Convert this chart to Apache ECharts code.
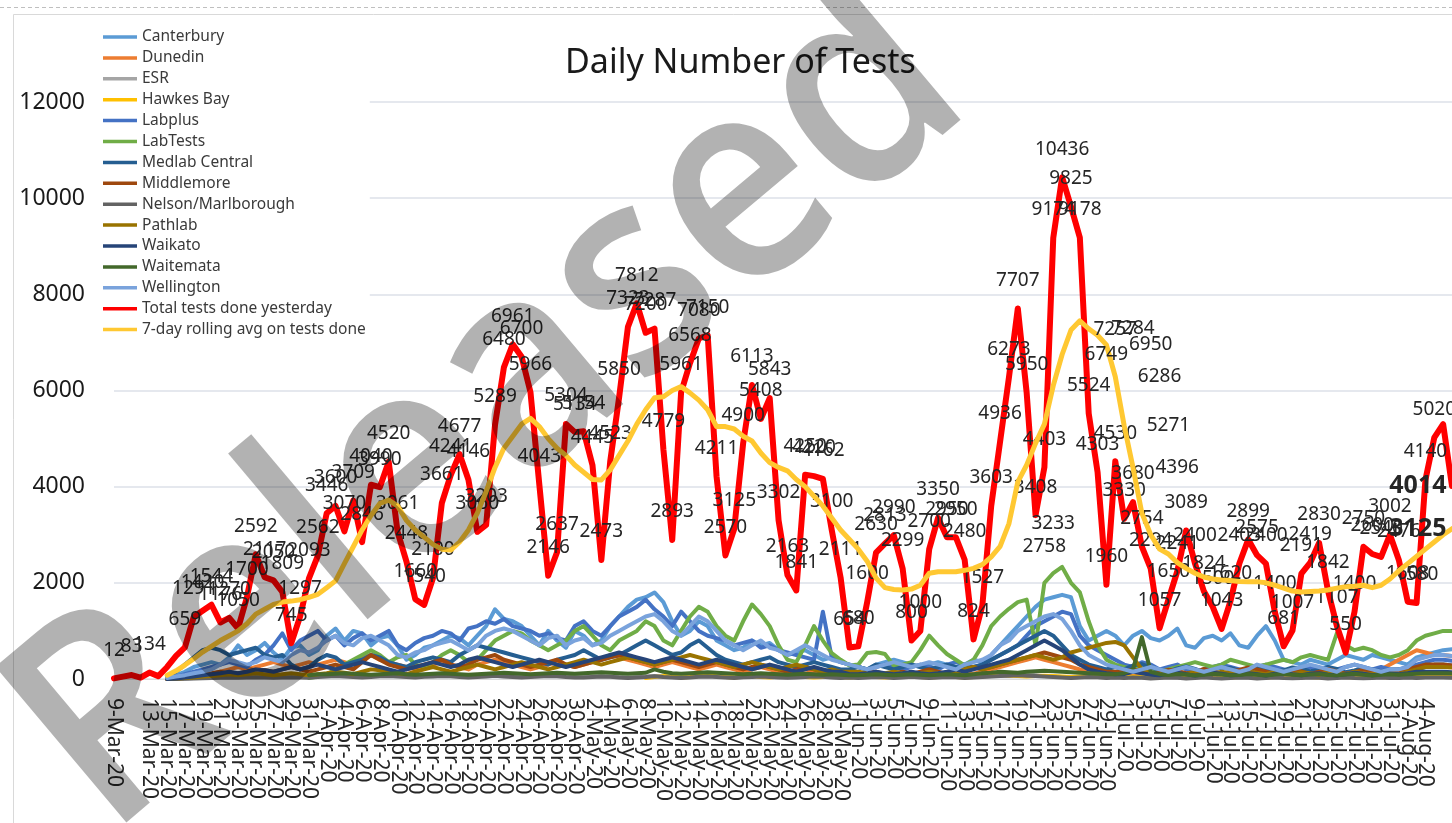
<!DOCTYPE html>
<html><head><meta charset="utf-8">
<script src="https://cdn.jsdelivr.net/npm/echarts@6/dist/echarts.min.js"></script>
<style>html,body{margin:0;padding:0;background:#fff}#c{width:1452px;height:823px}</style>
</head><body><div id="c"></div>
<script>
const dates = [
'9-Mar-20','10-Mar-20','11-Mar-20','12-Mar-20','13-Mar-20','14-Mar-20','15-Mar-20','16-Mar-20','17-Mar-20','18-Mar-20','19-Mar-20','20-Mar-20','21-Mar-20','22-Mar-20','23-Mar-20','24-Mar-20','25-Mar-20','26-Mar-20','27-Mar-20','28-Mar-20','29-Mar-20','30-Mar-20','31-Mar-20',
'1-Apr-20','2-Apr-20','3-Apr-20','4-Apr-20','5-Apr-20','6-Apr-20','7-Apr-20','8-Apr-20','9-Apr-20','10-Apr-20','11-Apr-20','12-Apr-20','13-Apr-20','14-Apr-20','15-Apr-20','16-Apr-20','17-Apr-20','18-Apr-20','19-Apr-20','20-Apr-20','21-Apr-20','22-Apr-20','23-Apr-20','24-Apr-20','25-Apr-20','26-Apr-20','27-Apr-20','28-Apr-20','29-Apr-20','30-Apr-20',
'1-May-20','2-May-20','3-May-20','4-May-20','5-May-20','6-May-20','7-May-20','8-May-20','9-May-20','10-May-20','11-May-20','12-May-20','13-May-20','14-May-20','15-May-20','16-May-20','17-May-20','18-May-20','19-May-20','20-May-20','21-May-20','22-May-20','23-May-20','24-May-20','25-May-20','26-May-20','27-May-20','28-May-20','29-May-20','30-May-20','31-May-20',
'1-Jun-20','2-Jun-20','3-Jun-20','4-Jun-20','5-Jun-20','6-Jun-20','7-Jun-20','8-Jun-20','9-Jun-20','10-Jun-20','11-Jun-20','12-Jun-20','13-Jun-20','14-Jun-20','15-Jun-20','16-Jun-20','17-Jun-20','18-Jun-20','19-Jun-20','20-Jun-20','21-Jun-20','22-Jun-20','23-Jun-20','24-Jun-20','25-Jun-20','26-Jun-20','27-Jun-20','28-Jun-20','29-Jun-20','30-Jun-20',
'1-Jul-20','2-Jul-20','3-Jul-20','4-Jul-20','5-Jul-20','6-Jul-20','7-Jul-20','8-Jul-20','9-Jul-20','10-Jul-20','11-Jul-20','12-Jul-20','13-Jul-20','14-Jul-20','15-Jul-20','16-Jul-20','17-Jul-20','18-Jul-20','19-Jul-20','20-Jul-20','21-Jul-20','22-Jul-20','23-Jul-20','24-Jul-20','25-Jul-20','26-Jul-20','27-Jul-20','28-Jul-20','29-Jul-20','30-Jul-20','31-Jul-20',
'1-Aug-20','2-Aug-20','3-Aug-20','4-Aug-20','5-Aug-20','6-Aug-20','7-Aug-20'
];

const yTicks = [0, 2000, 4000, 6000, 8000, 10000, 12000];

const canterbury = [null,null,null,null,null,null,
30,80,150,250,300,350,300,450,700,500,600,750,550,400,650,700,500,
600,900,1050,800,1000,950,700,850,900,700,400,500,650,700,800,900,850,700,900,1100,1450,1250,1200,1100,900,700,1000,800,650,1000,
900,700,800,1100,1300,1500,1650,1700,1800,1600,1200,900,1000,1200,1100,800,700,600,650,800,700,750,600,500,550,600,500,400,450,350,300,
250,200,300,350,400,350,300,250,300,350,300,250,300,400,350,500,700,900,1100,1300,1500,1650,1700,1750,1700,1100,800,900,1000,900,
700,900,1000,850,800,900,1050,700,650,850,900,800,950,700,650,900,1100,800,400,350,300,400,350,300,400,500,450,400,500,450,400,
350,300,450,500,550,600,620];

const dunedin = [null,null,null,null,null,null,
0,10,30,50,80,100,150,200,250,200,250,300,350,300,250,300,350,
300,350,400,350,300,450,500,400,350,300,250,200,250,300,350,300,250,200,300,350,400,350,300,250,200,250,300,350,300,250,
300,350,400,500,450,400,350,300,250,300,350,300,250,200,250,300,250,200,150,200,250,200,150,100,150,200,150,100,100,80,80,
80,100,80,60,80,110,90,60,70,100,80,60,90,110,150,200,250,300,350,400,450,400,350,300,250,200,150,100,80,80,
80,100,90,60,70,110,80,60,90,100,70,60,80,110,90,60,80,100,70,60,90,110,80,60,80,100,90,120,150,200,300,
400,500,600,550,500,500,480];

const esr = [null,null,null,null,null,null,
0,0,10,20,30,40,50,60,50,60,70,60,50,60,70,60,50,
60,75,85,70,55,50,65,70,90,70,60,45,60,75,80,65,60,50,65,70,85,70,55,50,60,75,80,70,60,50,
40,55,60,50,45,30,40,50,65,50,40,30,45,50,60,55,40,30,40,50,60,45,40,35,40,50,60,50,40,30,40,
30,40,50,40,30,40,50,40,30,40,50,40,30,40,50,60,80,100,120,100,80,60,50,40,30,40,50,40,30,40,
30,40,35,20,30,45,30,25,30,40,35,20,30,40,30,25,30,45,30,20,30,40,35,20,30,40,30,25,30,40,30,
30,40,30,40,40,40,35];

const hawkesBay = [
null,null,null,null,null,null,null,null,null,null,
null,null,null,null,null,null,null,null,null,null,
null,null,null,null,null,null,null,null,null,null,
null,null,null,null,null,null,null,null,null,null,
null,null,null,null,null,null,null,null,null,null,
null,null,null,null,null,null,null,null,null,null,
20,40,60,50,30,40,70,80,60,40,30,50,60,40,30,50,70,60,40,30,40,50,40,30,
40,50,40,30,40,60,50,40,30,40,50,40,30,40,60,70,80,70,60,50,60,70,60,50,40,50,60,50,40,50,
40,50,40,30,40,50,40,30,40,60,50,40,30,40,50,40,30,40,50,60,50,40,30,40,50,40,30,40,50,40,30,
40,50,60,60,60,60,55];

const labplus = [null,null,null,null,null,null,
20,50,100,150,200,250,300,350,300,250,400,500,700,950,600,800,900,
1000,800,900,700,850,950,800,900,1000,700,600,750,850,900,1000,950,800,1050,1100,1200,1150,1250,1100,1050,1000,900,950,850,800,1100,
1200,1000,900,1100,1300,1400,1500,1650,1450,1300,1100,1400,1200,1000,900,850,800,700,750,800,650,700,600,550,500,450,400,1400,450,350,300,
250,200,250,300,250,200,250,300,250,200,300,350,300,250,300,400,500,600,700,900,1100,1200,1300,1400,1350,900,700,600,500,400,
300,250,350,300,200,250,300,200,150,200,250,300,250,200,150,250,300,250,200,150,200,250,200,150,200,250,300,250,200,250,200,
200,250,300,350,400,400,380];

const labTests = [null,null,null,null,null,null,null,null,null,null,null,null,null,null,null,null,null,null,null,null,null,null,
20,
50,100,200,300,400,500,600,500,350,450,500,300,250,350,500,600,500,350,400,600,800,900,1000,950,800,700,600,700,800,1000,
1100,900,700,600,800,900,1000,1200,1100,800,700,1000,1300,1500,1400,1100,900,800,1200,1550,1350,1100,700,400,350,700,1100,800,540,400,280,
300,540,560,520,280,300,350,600,900,700,520,400,280,400,700,1100,1300,1460,1600,1650,700,2000,2200,2330,2000,1800,1200,700,400,300,
250,200,300,250,150,200,250,300,350,300,250,300,400,350,300,250,300,350,400,350,450,500,450,400,950,700,600,650,600,500,450,
500,600,800,900,950,1000,1000];

const medlabCentral = [null,null,null,null,null,null,
50,150,300,450,600,650,600,500,550,600,650,500,450,500,300,200,250,
400,500,450,300,350,400,500,450,350,300,250,350,400,450,400,350,500,600,700,650,600,550,500,450,400,350,300,400,450,500,
600,500,400,450,500,600,700,800,700,600,500,550,700,800,650,500,400,350,300,350,400,450,350,300,250,300,350,300,250,200,200,
250,200,300,250,200,250,300,250,200,250,300,250,200,250,300,400,500,600,700,800,900,1000,900,700,500,400,300,250,200,250,
200,280,310,240,190,160,220,260,210,140,190,240,230,170,200,260,210,150,180,240,220,160,190,250,210,140,180,230,200,160,190,
200,150,200,250,300,300,280];

const middlemore = [null,null,null,null,null,null,
0,20,50,80,100,120,150,100,120,150,200,180,150,200,250,200,150,
200,250,300,250,200,350,500,400,300,250,200,250,300,350,400,300,250,300,400,450,500,400,350,300,250,300,350,400,300,250,
300,350,400,450,500,450,400,350,300,350,400,350,300,250,300,350,300,250,200,250,300,250,200,150,200,250,200,150,150,100,100,
100,120,150,100,120,150,100,150,200,150,100,150,200,250,200,250,300,350,400,450,500,550,500,450,400,300,250,200,150,150,
150,200,160,110,140,190,170,120,140,210,160,110,150,190,240,200,150,110,140,190,160,100,150,210,160,110,140,200,160,110,150,
150,200,250,300,300,300,280];

const nelsonMarlborough = [null,null,null,null,null,null,
0,0,5,10,15,20,25,30,25,30,35,30,25,30,35,30,25,
40,50,60,50,40,30,40,55,60,50,40,30,45,50,60,55,40,30,40,50,65,50,40,30,40,50,60,55,40,30,
30,40,50,45,30,20,30,40,55,40,30,20,30,45,50,40,30,20,35,40,50,40,30,25,30,40,50,45,30,20,30,
20,30,40,35,20,30,45,30,20,30,40,35,20,30,40,50,60,70,80,70,60,50,40,30,20,30,40,35,20,30,
20,30,25,10,20,30,25,10,20,35,20,10,20,30,25,10,20,30,20,15,20,30,25,10,20,30,20,15,20,30,20,
20,30,20,30,30,30,25];

const pathlab = [null,null,null,null,null,null,
0,10,20,30,50,60,80,100,80,100,120,100,80,100,120,100,80,
100,120,150,130,100,150,200,180,150,120,100,150,200,250,200,150,200,250,300,250,200,250,300,350,300,250,200,250,300,350,
400,350,300,350,400,450,400,350,300,350,400,450,500,450,400,350,300,250,300,350,300,250,200,250,300,250,200,150,200,150,150,
150,120,100,120,150,120,100,120,150,120,100,150,200,250,200,250,300,350,400,450,500,450,400,450,550,600,650,700,750,770,
700,450,200,130,100,150,120,100,160,130,100,150,120,90,150,130,100,160,120,100,140,120,90,150,130,100,150,120,100,140,120,
100,150,200,250,250,250,240];

const waikato = [null,null,null,null,null,null,
0,10,30,50,80,100,120,150,120,150,200,180,150,200,250,200,250,
300,250,200,250,300,350,300,250,200,150,200,250,300,350,300,250,300,400,450,400,350,300,250,300,350,400,350,300,250,300,
350,400,450,500,550,500,450,400,350,400,450,400,350,300,350,400,350,300,250,200,250,300,250,200,150,200,250,200,150,150,100,
100,120,150,120,100,120,150,120,100,120,150,200,150,200,250,300,350,400,500,600,700,800,700,600,450,300,200,150,120,100,
100,150,120,90,80,110,130,100,70,100,130,110,80,90,120,100,70,110,130,100,80,110,120,90,80,100,130,110,80,100,120,
100,120,150,150,150,150,140];

const waitemata = [null,null,null,null,null,null,null,null,null,null,null,null,null,null,null,null,null,null,null,null,null,null,
80,
100,100,110,120,110,100,90,100,110,120,100,90,100,110,120,110,100,90,100,110,120,130,120,110,100,110,120,130,120,110,
120,130,140,130,120,110,120,130,200,150,120,110,120,130,140,130,120,110,100,110,120,110,100,90,100,110,100,90,100,90,80,
80,90,100,90,80,90,100,90,80,90,100,90,80,100,120,130,150,140,130,150,160,170,160,150,140,130,120,110,100,100,
120,200,870,150,100,85,105,95,75,90,110,95,80,85,105,90,75,95,110,90,80,95,105,85,80,95,110,90,75,90,100,
90,100,110,120,120,120,115];

const wellington = [null,null,null,null,null,null,
20,50,80,120,150,200,300,400,350,300,350,450,400,350,500,600,550,
650,800,900,750,700,850,900,800,700,500,450,550,600,700,750,800,700,600,700,900,1000,1050,1000,900,800,700,850,900,700,800,
850,700,750,900,1000,1100,1200,1300,1350,1200,1000,900,1100,1300,1200,1000,800,700,600,700,800,650,600,500,600,700,600,500,400,350,300,
250,200,250,300,350,300,250,300,350,300,250,200,300,350,400,500,700,800,1000,1100,1200,1300,1350,1250,1000,700,500,400,300,250,
200,150,200,250,200,150,200,250,200,150,200,250,200,150,200,300,250,200,150,200,250,300,250,200,150,250,300,250,200,150,200,
200,250,400,450,500,500,480];

const totalTests = [
12,50,83,30,134,60,250,480,659,1291,
1420,1544,1176,1270,1050,1700,2592,2117,2050,1809,
745,1297,2093,2562,3446,3600,3070,3709,2846,4040,
3990,4520,3061,2448,1660,1540,2100,3661,4241,4677,
4146,3060,3203,5289,6480,6961,6700,5966,4043,2146,
2637,5304,5134,5154,4445,2473,4523,5850,7323,7812,
7200,7287,4779,2893,5961,6568,7080,7150,4211,2570,
3125,4900,6113,5408,5843,3302,2163,1841,4250,4220,
4162,3100,2111,654,680,1600,2630,2813,2990,2299,
800,1000,2700,3350,2950,2950,2480,824,1527,3603,
4936,6273,7707,5950,3408,4403,9174,10436,9825,9178,
5524,4303,1960,4530,3330,3680,2754,2294,1057,1650,
2241,3089,2400,1824,1500,1043,1620,2403,2899,2575,
2400,1400,681,1007,2191,2419,2830,1842,1107,550,
1400,2750,2600,2540,3002,2476,1608,1580,4140,5020,
5300,4014];

const rollingAvg = [null,null,null,null,null,null,
80,170,290,420,560,680,800,900,1000,1150,
1350,1450,1550,1600,1620,1650,1700,1760,1900,2041,
2400,2750,3100,3400,3650,3720,3600,3300,3100,2950,
2800,2700,2680,2850,3100,3450,3900,4400,4800,5050,
5300,5420,5250,5000,4800,4650,4450,4300,4150,4140,
4350,4650,4950,5300,5600,5850,5870,6000,6080,5950,
5800,5600,5250,5250,5200,5050,4950,4700,4500,4400,
4330,4150,4000,3800,3600,3350,3100,2900,2700,2450,
2100,1900,1860,1850,1870,1950,2200,2230,2230,2230,
2260,2300,2380,2540,2758,3233,4100,4450,4900,5300,
6100,6749,7257,7450,7284,7150,6950,6286,5271,4396,
3450,3000,2700,2600,2420,2300,2200,2120,2080,2060,
2050,2030,2025,2025,2000,1950,1890,1830,1810,1820,
1830,1850,1890,1920,1930,1950,1900,1950,2080,2250,
2400,2550,2700,2850,3000,3125];

const hiddenTotalLabels = [1, 3, 5, 6, 7, 150];
const avgLabelIdx = [100, 101, 107, 108, 110, 112, 113, 114, 115];

const labSeries = [
  ['Canterbury', canterbury, '#5B9BD5'],
  ['Dunedin', dunedin, '#ED7D31'],
  ['ESR', esr, '#A5A5A5'],
  ['Hawkes Bay', hawkesBay, '#FFC000'],
  ['Labplus', labplus, '#4472C4'],
  ['LabTests', labTests, '#70AD47'],
  ['Medlab Central', medlabCentral, '#255E91'],
  ['Middlemore', middlemore, '#9E480E'],
  ['Nelson/Marlborough', nelsonMarlborough, '#636363'],
  ['Pathlab', pathlab, '#997300'],
  ['Waikato', waikato, '#264478'],
  ['Waitemata', waitemata, '#43682B'],
  ['Wellington', wellington, '#7AA3DC']
];

const FONT = '"Noto Sans", "Open Sans", sans-serif';
const series = labSeries.map(([name, data, color]) => ({
  name, type: 'line', data, symbol: 'none',
  lineStyle: { width: 4, color, cap: 'round', join: 'round' },
  itemStyle: { color }, z: 2
}));

const lastIdx = totalTests.length - 1;
series.push({
  name: 'Total tests done yesterday', type: 'line',
  symbol: 'circle', symbolSize: 1, showSymbol: true, showAllSymbol: true,
  data: totalTests.map((v, i) => i === lastIdx
    ? { value: v, label: { position: 'left', fontWeight: 'bold', fontSize: 25, distance: 5 } }
    : v),
  lineStyle: { width: 6, color: '#FF0000', join: 'round', cap: 'round' },
  itemStyle: { color: '#FF0000' }, z: 3,
  label: {
    show: true, position: 'top', distance: 18, fontSize: 19, color: '#262626', fontFamily: FONT,
    formatter: p => hiddenTotalLabels.includes(p.dataIndex) ? '' : String(p.value)
  },
  labelLayout: { hideOverlap: false }
});
series.push({
  name: '7-day rolling avg on tests done', type: 'line',
  symbol: 'circle', symbolSize: 1, showSymbol: true, showAllSymbol: true,
  data: rollingAvg.map((v, i) => {
    if (i === lastIdx) return { value: v, label: { show: true, position: 'left', fontWeight: 'bold', fontSize: 25, distance: 5 } };
    if (avgLabelIdx.includes(i)) return { value: v, label: { show: true } };
    return v;
  }),
  lineStyle: { width: 5, color: '#FFC832', join: 'round', cap: 'round' },
  itemStyle: { color: '#FFC832' }, z: 4,
  label: { show: false, position: 'right', distance: 22, fontSize: 19, color: '#262626', fontFamily: FONT },
  labelLayout: { hideOverlap: false }
});

const chart = echarts.init(document.getElementById('c'), null, { renderer: 'canvas' });
chart.setOption({
  animation: false,
  backgroundColor: '#ffffff',
  textStyle: { fontFamily: FONT },
  title: {
    text: 'Daily Number of Tests', left: 560, top: 41,
    textStyle: { fontSize: 34, fontWeight: 'normal', color: '#1a1a1a', fontFamily: FONT }
  },
  legend: {
    orient: 'vertical', left: 99, top: 27, icon: 'rect',
    itemWidth: 34, itemHeight: 3.5, itemGap: 4.9,
    backgroundColor: '#ffffff', padding: [2, 4, 2, 4],
    textStyle: { fontSize: 15.5, color: '#3a3a3a', lineHeight: 16, fontFamily: FONT },
    data: series.map(s => s.name)
  },
  grid: { left: 114, top: 102, width: 1359, height: 577, containLabel: false },
  xAxis: {
    type: 'category', data: dates, boundaryGap: false,
    axisTick: { show: false },
    axisLine: { lineStyle: { color: '#d9d9d9' } },
    axisLabel: { interval: 1, rotate: -90, fontSize: 21, color: '#262626', margin: 19, fontFamily: FONT,
      showMinLabel: true, hideOverlap: false }
  },
  yAxis: {
    type: 'value', min: yTicks[0], max: yTicks[yTicks.length - 1], interval: 2000,
    axisLine: { show: false }, axisTick: { show: false },
    splitLine: { lineStyle: { color: '#dde1e8', width: 1.5 } },
    axisLabel: { fontSize: 23, color: '#1a1a1a', margin: 29, fontFamily: FONT, formatter: v => String(v) }
  },
  graphic: [
    { type: 'rect', silent: true, z: -10, shape: { x: 13.5, y: 14.5, width: 1600, height: 1000 },
      style: { fill: 'none', stroke: '#d9d9d9', lineWidth: 1 } },
    { type: 'line', silent: true, z: -10, shape: { x1: 0, y1: 7.5, x2: 1452, y2: 7.5 },
      style: { stroke: '#bfbfbf', lineWidth: 1, lineDash: [4, 3] } },
    { type: 'text', silent: true, z: 100, x: 490, y: 410, rotation: 0.70, scaleX: 0.92,
      style: { text: 'Released', font: '600 285px "Open Sans"', fill: 'rgba(0,0,0,0.3)',
        textAlign: 'center', textVerticalAlign: 'middle', align: 'center', verticalAlign: 'middle' } }
  ],
  series
});
</script></body></html>
